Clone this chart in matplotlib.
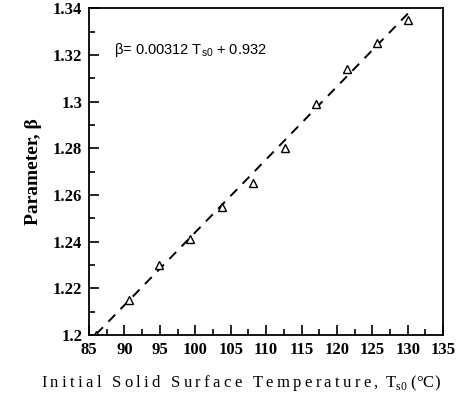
"""Parameter beta vs initial solid surface temperature, with linear fit."""
import matplotlib
matplotlib.use("Agg")
import matplotlib.pyplot as plt
import numpy as np
from matplotlib.ticker import MultipleLocator

plt.rcParams["mathtext.fontset"] = "custom"
plt.rcParams["mathtext.rm"] = "Liberation Serif"
plt.rcParams["mathtext.sf"] = "Liberation Sans"

t_s0 = [86.0, 90.6, 94.9, 99.2, 103.8, 108.2, 112.6, 117.0, 121.4, 125.6, 130.0]
beta = [1.200, 1.215, 1.230, 1.241, 1.255, 1.265, 1.280, 1.299, 1.314, 1.325, 1.335]

# linear fit from the label
slope, intercept = 0.00312, 0.932
fit_x = np.array([86.0, 130.6])

fig = plt.figure(figsize=(4.64, 4.09), dpi=100)
ax = fig.add_axes([0.192, 0.181, 0.763, 0.799])

ax.plot(fit_x, slope * fit_x + intercept, "k--", lw=1.4, dashes=(5, 4))
ax.plot(t_s0, beta, ls="none", marker="^", ms=5.5, mfc="white", mec="k", mew=1.0)

ax.set_xlim(85, 135)
ax.set_ylim(1.2, 1.34)
ax.xaxis.set_major_locator(MultipleLocator(5))
ax.xaxis.set_minor_locator(MultipleLocator(2.5))
ax.yaxis.set_major_locator(MultipleLocator(0.02))
ax.yaxis.set_minor_locator(MultipleLocator(0.01))
ax.yaxis.set_major_formatter(plt.FuncFormatter(lambda v, p: f"{v:.2f}".rstrip("0")))
ax.tick_params(which="both", direction="in", top=False, right=False, width=1.2)
ax.tick_params(which="major", length=7, pad=5)
ax.tick_params(which="minor", length=4)
for s in ax.spines.values():
    s.set_linewidth(1.3)
for lab in ax.get_xticklabels() + ax.get_yticklabels():
    lab.set_fontfamily("Liberation Serif")
    lab.set_fontweight("bold")
    lab.set_fontsize(12)

ax.set_ylabel("Parameter, β", family="Liberation Serif", fontweight="bold",
              fontsize=14, labelpad=8)
sp = "\u2009"
xlab = sp.join("Initial Solid Surface Temperature,") + sp + " T$_\\mathrm{s0}$ (°C)"
fig.text(0.52, 0.064, xlab, family="Liberation Serif", fontsize=12,
         ha="center", va="center")
ax.text(0.07, 0.86, "β= 0.00312 T$_\\mathsf{s0}$ + 0.932", transform=ax.transAxes,
        family="Liberation Sans", fontsize=10.5)

plt.savefig("out.png", dpi=100)
plt.close()
